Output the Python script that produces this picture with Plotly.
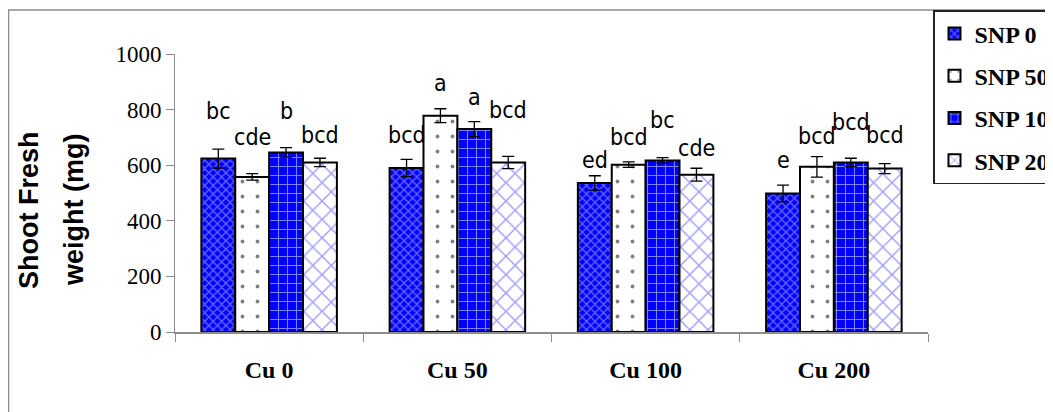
import plotly.graph_objects as go

categories = ["Cu 0", "Cu 50", "Cu 100", "Cu 200"]
series_names = ["SNP 0", "SNP 50", "SNP 100", "SNP 200"]

snp0 = [624, 590, 536, 498]
snp50 = [558, 778, 602, 594]
snp100 = [646, 730, 617, 610]
snp200 = [610, 610, 566, 588]

snp0_err = [34, 31, 26, 30]
snp50_err = [12, 25, 10, 37]
snp100_err = [17, 27, 10, 15]
snp200_err = [15, 22, 23, 18]

snp0_letters = ["bc", "bcd", "ed", "e"]
snp50_letters = ["cde", "a", "bcd", "bcd"]
snp100_letters = ["b", "a", "bc", "bcd"]
snp200_letters = ["bcd", "bcd", "cde", "bcd"]

y_ticks = [0, 200, 400, 600, 800, 1000]

# label placement (pixels above the error bar top)
label_gap_px = [
    [29, 15, 7, 16],
    [28, 17, 16, 12],
    [28, 16, 29, 27],
    [14, 37, 11, 20],
]

values = [snp0, snp50, snp100, snp200]
errors = [snp0_err, snp50_err, snp100_err, snp200_err]
letters = [snp0_letters, snp50_letters, snp100_letters, snp200_letters]

styles = [
    dict(color="#0000ff", pattern=dict(shape="x", fgcolor="#c8c8ff", bgcolor="#0000ff", size=6, solidity=0.4)),
    dict(color="#ffffff", pattern=dict(shape=".", fgcolor="#000000", bgcolor="#ffffff", size=15, solidity=0.05)),
    dict(color="#0000ff", pattern=dict(shape="+", fgcolor="#ffffff", bgcolor="#0000ff", size=9, solidity=0.22)),
    dict(color="#ffffff", pattern=dict(shape="x", fgcolor="#3c3cff", bgcolor="#ffffff", size=13, solidity=0.2)),
]

# pixel geometry of the reference (screen coords); page body adds an 8px margin
OFF = 8
W, H = 1053 - OFF, 412 - OFF
SL, SR, ST, SB = 175, 928, 54, 332
L, R, T, B = SL - OFF, SR - OFF, ST - OFF, SB - OFF
pw, ph = R - L, B - T

def px_x(p):
    return (p - SL) / pw

def px_y(p):
    return (SB - p) / ph

bargap = 0.28

fig = go.Figure()
for i, name in enumerate(series_names):
    fig.add_trace(go.Bar(
        x=categories, y=values[i], name="<b>%s</b>" % name, legendgroup=name,
        marker=dict(color=styles[i]["color"], pattern=styles[i]["pattern"],
                    line=dict(color="#000000", width=2)),
        error_y=dict(type="data", array=errors[i], color="#000000", thickness=1.3, width=6),
    ))

bw = (1 - bargap) / 4
annotations = []
for i in range(4):
    for j in range(4):
        annotations.append(dict(
            x=j + (i - 1.5) * bw, y=values[i][j] + errors[i][j], xref="x", yref="y",
            text=letters[i][j], showarrow=False, yanchor="bottom", xanchor="center",
            yshift=label_gap_px[i][j] - 6,
            font=dict(family="DejaVu Sans Condensed, Liberation Sans Narrow, Arial Narrow, sans-serif", size=23, color="#000000"),
        ))

title_font = dict(family="Liberation Sans, Arial, sans-serif", size=27, color="#000000")
annotations.append(dict(x=px_x(29), y=px_y(210), xref="paper", yref="paper", text="<b>Shoot Fresh</b>",
                        textangle=-90, showarrow=False, font=title_font, xanchor="center", yanchor="middle"))
annotations.append(dict(x=px_x(74), y=px_y(210), xref="paper", yref="paper", text="<b>weight (mg)</b>",
                        textangle=-90, showarrow=False, font=title_font, xanchor="center", yanchor="middle"))

shapes = [dict(type="rect", xref="paper", yref="paper",
               x0=px_x(8.5), x1=px_x(1080), y0=px_y(440), y1=px_y(10),
               line=dict(color="#8c8c8c", width=1.5), fillcolor="rgba(0,0,0,0)", layer="below")]

fig.update_layout(
    width=W, height=H,
    margin=dict(l=L, r=W - R, t=T, b=H - B, autoexpand=False),
    paper_bgcolor="#ffffff", plot_bgcolor="#ffffff",
    barmode="group", bargap=bargap, bargroupgap=0,
    showlegend=True,
    legend=dict(x=px_x(933), y=px_y(10), xanchor="left", yanchor="top",
                bordercolor="#222222", borderwidth=1.5, bgcolor="#ffffff",
                font=dict(family="Liberation Serif, Times New Roman, serif", size=24, color="#000000"),
                tracegroupgap=8, traceorder="grouped", itemwidth=30),
    xaxis=dict(type="category", tickson="boundaries", ticks="outside", ticklen=8, tickcolor="#8c8c8c",
               showline=True, linecolor="#8c8c8c", linewidth=1.5, showgrid=False,
               tickfont=dict(family="Liberation Serif, Times New Roman, serif", size=24, color="#000000"),
               ticktext=["<b>%s</b>" % c for c in categories], tickvals=categories,
               ticklabelstandoff=15, range=[-0.5, 3.5]),
    yaxis=dict(range=[0, 1000], tickvals=y_ticks, ticks="outside", ticklen=8, tickcolor="#8c8c8c",
               showline=True, linecolor="#8c8c8c", linewidth=1, showgrid=False, zeroline=False,
               tickfont=dict(family="Liberation Serif, Times New Roman, serif", size=23, color="#000000")),
    annotations=annotations,
    shapes=shapes,
)

fig.write_html("out.html")
